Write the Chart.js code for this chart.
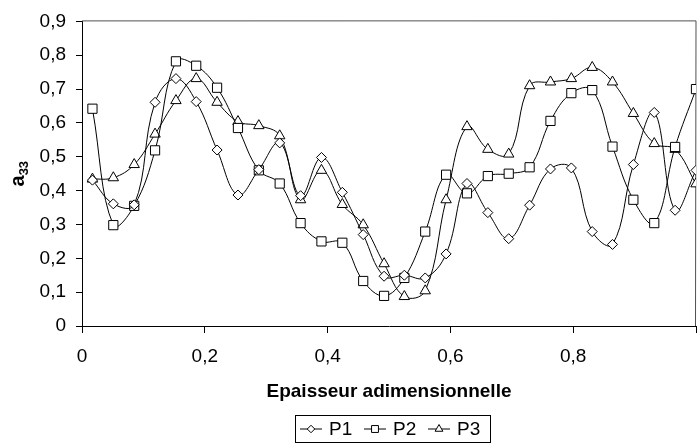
<!DOCTYPE html>
<html>
<head>
<meta charset="utf-8">
<script src="https://cdn.jsdelivr.net/npm/chart.js@4/dist/chart.umd.min.js"></script>
<style>
  html, body { margin: 0; padding: 0; background: #fff; overflow: hidden; }
  /* the plot runs a few pixels past the window edge, as in the original */
  canvas { display: block; }
</style>
</head>
<body>
<canvas id="chart" width="708" height="443"></canvas>
<script>
// Epaisseur adimensionnelle (x) for each measuring point
const thickness = [0.017, 0.051, 0.085, 0.119, 0.153, 0.186, 0.220, 0.254, 0.288, 0.322,
  0.356, 0.390, 0.424, 0.458, 0.492, 0.525, 0.559, 0.593, 0.627, 0.661,
  0.695, 0.729, 0.763, 0.797, 0.831, 0.864, 0.898, 0.932, 0.966, 1.000];

// a33 values
const p1 = [0.431, 0.361, 0.358, 0.661, 0.731, 0.663, 0.520, 0.387, 0.462, 0.541,
  0.385, 0.498, 0.395, 0.270, 0.147, 0.150, 0.142, 0.213, 0.421, 0.335,
  0.258, 0.357, 0.464, 0.467, 0.279, 0.241, 0.477, 0.631, 0.342, 0.460];
const p2 = [0.642, 0.298, 0.355, 0.519, 0.782, 0.769, 0.704, 0.585, 0.460, 0.421,
  0.304, 0.250, 0.246, 0.133, 0.089, 0.142, 0.279, 0.447, 0.392, 0.443,
  0.450, 0.469, 0.606, 0.688, 0.697, 0.530, 0.373, 0.304, 0.529, 0.700];
const p3 = [0.434, 0.438, 0.477, 0.567, 0.666, 0.731, 0.661, 0.604, 0.592, 0.562,
  0.373, 0.460, 0.359, 0.299, 0.184, 0.087, 0.104, 0.373, 0.589, 0.522,
  0.508, 0.710, 0.721, 0.731, 0.764, 0.721, 0.628, 0.539, 0.522, 0.420];

const seriesNames = ['P1', 'P2', 'P3'];
const xTickLabels = ['0', '0,2', '0,4', '0,6', '0,8', ''];
const yTitle = 'a';
const yTitleSub = '33';
const xTitle = 'Epaisseur adimensionnelle';

const FONT = '"Liberation Sans", Arial, sans-serif';
const markers = [
  { style: 'rectRot', radius: 5 },
  { style: 'rect', radius: 6.5 },
  { style: 'triangle', radius: 6 }
];

function toPoints(values) {
  return values.map((v, i) => ({ x: thickness[i], y: v }));
}

function makeDataset(label, values, marker) {
  return {
    label: label,
    data: toPoints(values),
    borderColor: '#000',
    borderWidth: 1,
    backgroundColor: '#fff',
    pointStyle: marker.style,
    pointRadius: marker.radius,
    pointBorderWidth: 1,
    pointBorderColor: '#000',
    pointBackgroundColor: '#fff',
    tension: 0.4,
    fill: false
  };
}

// dark gray frame line on top of the plot area
const frame = {
  id: 'frame',
  beforeDatasetsDraw(chart) {
    const { ctx, chartArea: a } = chart;
    ctx.save();
    ctx.strokeStyle = '#505050';
    ctx.lineWidth = 1;
    ctx.beginPath();
    ctx.moveTo(a.left, a.top - 0.5);
    ctx.lineTo(a.right, a.top - 0.5);
    ctx.lineTo(a.right - 0.5, a.bottom);
    ctx.stroke();
    ctx.restore();
  }
};

// rotated y title with subscript
const yTitlePlugin = {
  id: 'yTitle',
  afterDraw(chart) {
    const ctx = chart.ctx;
    const cy = (chart.chartArea.top + chart.chartArea.bottom) / 2;
    ctx.save();
    ctx.translate(24, cy);
    ctx.rotate(-Math.PI / 2);
    ctx.fillStyle = '#000';
    ctx.textBaseline = 'alphabetic';
    ctx.font = 'bold 20px ' + FONT;
    const wa = ctx.measureText(yTitle).width;
    ctx.font = 'bold 13px ' + FONT;
    const ws = ctx.measureText(yTitleSub).width;
    const start = -(wa + ws) / 2;
    ctx.font = 'bold 20px ' + FONT;
    ctx.fillText(yTitle, start, 0);
    ctx.font = 'bold 13px ' + FONT;
    ctx.fillText(yTitleSub, start + wa, 4);
    ctx.restore();
  }
};

// boxed legend with line-through-marker samples
const boxLegend = {
  id: 'boxLegend',
  afterDraw(chart) {
    const ctx = chart.ctx;
    const box = { x: 295.5, y: 415.5, w: 195, h: 27 };
    const cy = box.y + box.h / 2;
    ctx.save();
    ctx.strokeStyle = '#000';
    ctx.lineWidth = 1;
    ctx.strokeRect(box.x, box.y, box.w, box.h);
    ctx.font = '19px ' + FONT;
    ctx.textBaseline = 'middle';
    ctx.fillStyle = '#000';
    let x = 300;
    seriesNames.forEach((name, i) => {
      ctx.beginPath();
      ctx.moveTo(x, cy);
      ctx.lineTo(x + 22, cy);
      ctx.stroke();
      ctx.fillStyle = '#fff';
      Chart.helpers.drawPoint(ctx, {
        pointStyle: markers[i].style,
        radius: markers[i].radius * 0.75,
        rotation: 0,
        borderWidth: 1
      }, x + 11, cy);
      ctx.fillStyle = '#000';
      ctx.fillText(name, x + 29, cy + 1);
      x += 64;
    });
    ctx.restore();
  }
};

new Chart(document.getElementById('chart'), {
  type: 'line',
  data: {
    datasets: [
      makeDataset(seriesNames[0], p1, markers[0]),
      makeDataset(seriesNames[1], p2, markers[1]),
      makeDataset(seriesNames[2], p3, markers[2])
    ]
  },
  options: {
    responsive: false,
    animation: false,
    layout: { padding: { top: 15, right: 4, left: 0, bottom: 0 } },
    scales: {
      x: {
        type: 'linear',
        min: 0,
        max: 1,
        afterFit(scale) { scale.height = 117; },
        border: { color: '#000', width: 1 },
        grid: { drawOnChartArea: false, drawTicks: true, tickLength: 7, color: '#000' },
        ticks: {
          stepSize: 0.2,
          padding: 12,
          color: '#000',
          maxRotation: 0,
          font: { family: FONT, size: 19 },
          callback: (v, i) => xTickLabels[i]
        },
        title: {
          display: true,
          text: xTitle,
          color: '#000',
          font: { family: FONT, size: 19, weight: 'bold' },
          padding: { top: 0, bottom: 40 }
        }
      },
      y: {
        min: 0,
        max: 0.9,
        afterFit(scale) { scale.width = 82; },
        border: { color: '#000', width: 1 },
        grid: { drawOnChartArea: false, drawTicks: true, tickLength: 6, color: '#000' },
        ticks: {
          stepSize: 0.1,
          padding: 10,
          color: '#000',
          font: { family: FONT, size: 19 },
          callback: v => (Math.abs(v) < 1e-9 ? '0' : v.toFixed(1).replace('.', ','))
        }
      }
    },
    plugins: {
      legend: { display: false },
      tooltip: { enabled: false }
    }
  },
  plugins: [frame, yTitlePlugin, boxLegend]
});
</script>
</body>
</html>
